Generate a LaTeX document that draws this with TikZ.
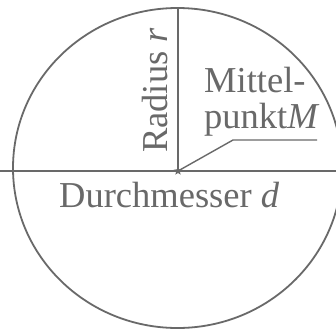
\documentclass[tikz,border=0pt]{standalone}
\usepackage{fontspec}
\setmainfont{Liberation Serif}
\usetikzlibrary{shapes.geometric}
\definecolor{ink}{RGB}{105,105,105}
\begin{document}
\begin{tikzpicture}[x=1pt,y=-1pt,
  line/.style={draw=ink,line width=1.8pt},
  lbl/.style={text=ink,inner sep=0pt,font=\fontsize{36.5}{37}\selectfont}]
\useasboundingbox (0,0) rectangle (336,332);
\clip (0,0) rectangle (336,332);
\fill[white] (0,0) rectangle (336,332);
\coordinate (C) at (177.5,168);
\draw[line] (C) ellipse [x radius=164.5, y radius=160];
\coordinate (T) at (178,8);
\coordinate (L) at (0,171);
\coordinate (R) at (336,171);
\node[star,star points=5,star point ratio=2.3,fill=ink,minimum size=9pt,inner sep=0pt] (M) at (178,171) {};
\draw[line] (L) -- (R);
\draw[line] (T) -- (M.center);
\coordinate (k) at (233,140);
\coordinate (e) at (317,140);
\draw[draw=ink,line width=1.4pt] (M.center) -- (k) -- (e);
\node[lbl,rotate=90,anchor=base west] (rad) at (167,153) {Radius \textit{r}};
\node[lbl,anchor=base west] (dm) at (59,207) {Durchmesser \textit{d}};
\node[lbl,anchor=base west] (mt) at (204,92) {Mittel-};
\node[lbl,anchor=base west] (pk) at (204,128) {punkt\textit{M}};
\end{tikzpicture}
\end{document}
